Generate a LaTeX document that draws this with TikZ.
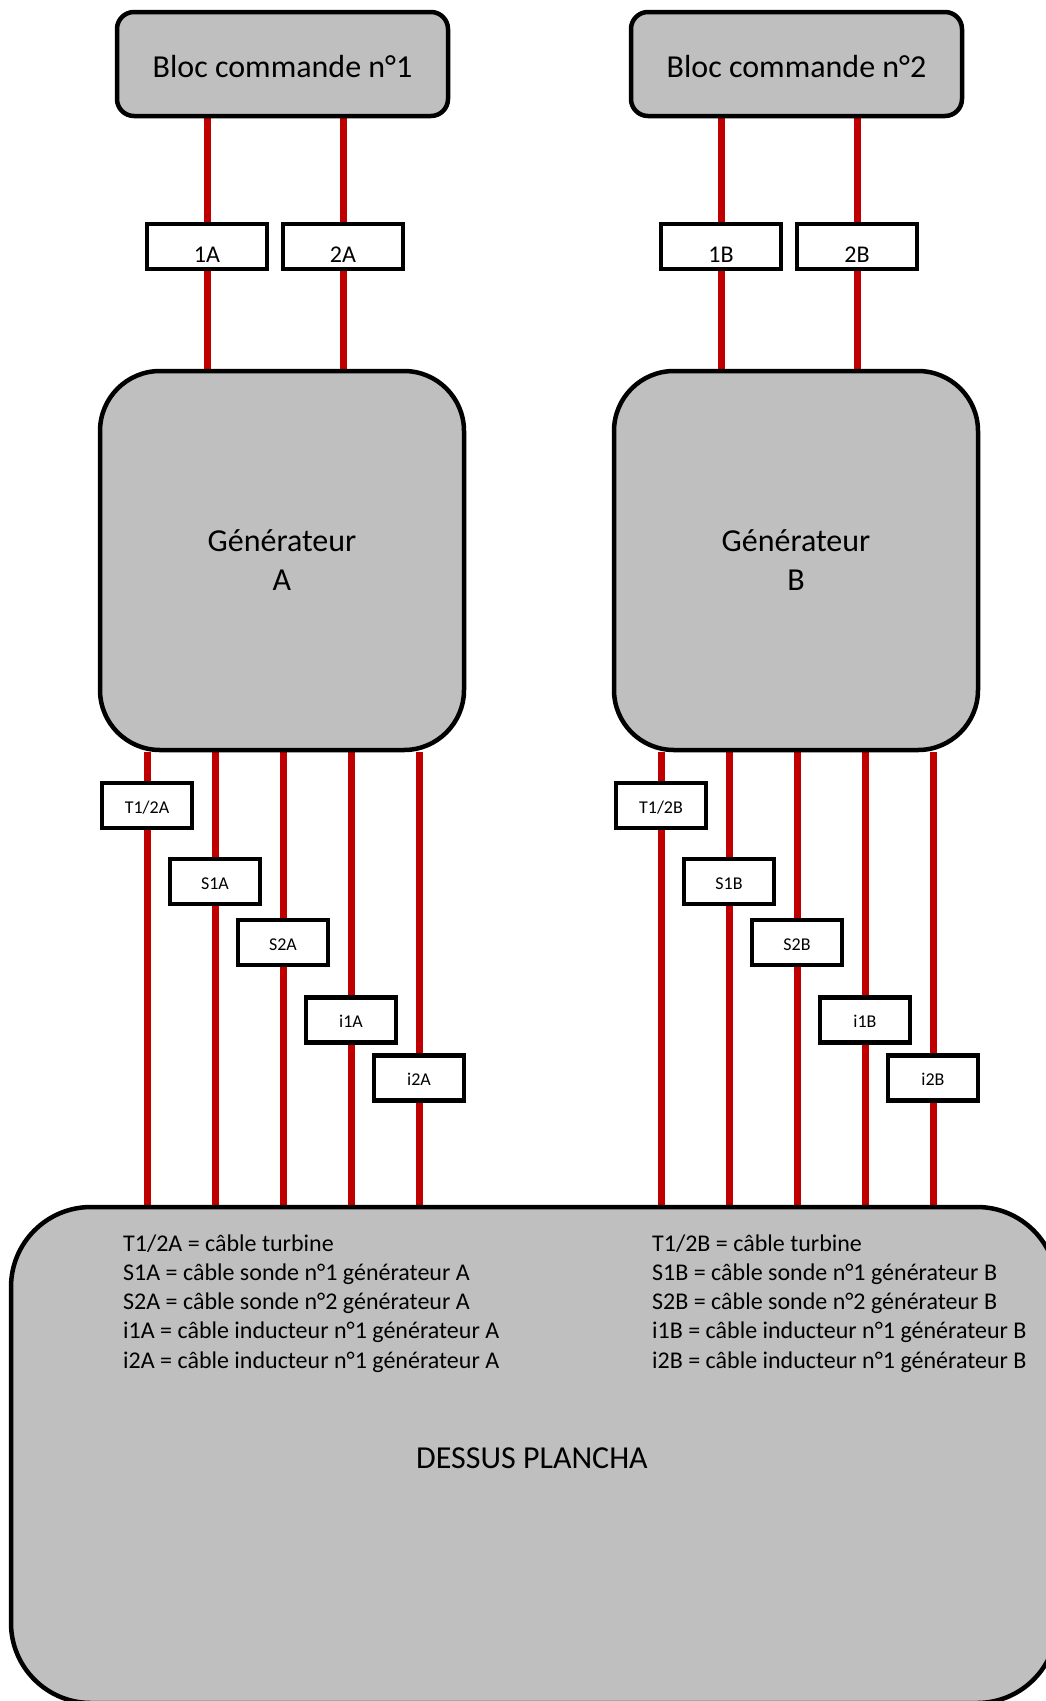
\documentclass[tikz,border=0pt]{standalone}
\usepackage{fontspec}
\setmainfont{Carlito}
\definecolor{wirered}{HTML}{C00000}
\definecolor{boxgray}{HTML}{BFBFBF}
\pgfdeclarelayer{bg}
\pgfsetlayers{bg,main}
\begin{document}
\begin{tikzpicture}[x=1pt,y=-1pt,
  bigbox/.style={draw=black, line width=4.5pt, fill=boxgray, inner sep=0pt, anchor=center},
  bloc/.style={bigbox, minimum width=331pt, minimum height=104pt, rounded corners=17pt,
    font=\fontsize{32}{38}\selectfont, text height=26pt, text depth=0pt},
  gen/.style={bigbox, minimum width=364pt, minimum height=379pt, rounded corners=60pt,
    font=\fontsize{32}{39}\selectfont, align=center},
  plate/.style={bigbox, minimum width=1046pt, minimum height=496pt, rounded corners=80pt},
  tagbox/.style={draw=black, line width=4.5pt, fill=white, inner sep=0pt, anchor=center,
    minimum width=120pt, minimum height=45pt, font=\fontsize{24}{29}\selectfont,
    text height=31pt, text depth=0pt},
  ctag/.style={draw=black, line width=4.5pt, fill=white, inner sep=0pt, anchor=center,
    minimum width=90pt, minimum height=45pt, font=\fontsize{18}{22}\selectfont,
    text height=15pt, text depth=0pt},
  wire/.style={draw=wirered, line width=7pt},
  legend/.style={anchor=base west, inner sep=0pt, font=\fontsize{24}{29}\selectfont},
  title/.style={anchor=base, inner sep=0pt, font=\fontsize{32}{38}\selectfont}]
\useasboundingbox (0,0) rectangle (1046,1701);

\node[plate] (plate) at (534,1455) {};
\node[title] (plateTitle) at (532,1468) {DESSUS PLANCHA};

\foreach \s/\o/\n in {A/0/1,B/514/2}{
  \node[bloc] (bloc\s) at (282.5+\o,64) {Bloc commande n°\n};
  \node[gen] (gen\s) at (282+\o,560.5) {Générateur\\\s};
  \node[tagbox] (tOne\s) at (207+\o,246.5) {1\s};
  \node[tagbox] (tTwo\s) at (343+\o,246.5) {2\s};
  \node[ctag] (tT\s) at (147+\o,805.5) {T1/2\s};
  \node[ctag] (tSa\s) at (215+\o,881.5) {S1\s};
  \node[ctag] (tSb\s) at (283+\o,942.5) {S2\s};
  \node[ctag] (tIa\s) at (351+\o,1020) {i1\s};
  \node[ctag] (tIb\s) at (419+\o,1078) {i2\s};
}

\foreach \s/\x in {A/123,B/652}{
  \node[legend] (leg1\s) at (\x,1251) {T1/2\s{} = câble turbine};
  \node[legend] (leg2\s) at (\x,1280.25) {S1\s{} = câble sonde n°1 générateur \s};
  \node[legend] (leg3\s) at (\x,1309.5) {S2\s{} = câble sonde n°2 générateur \s};
  \node[legend] (leg4\s) at (\x,1338.75) {i1\s{} = câble inducteur n°1 générateur \s};
  \node[legend] (leg5\s) at (\x,1368) {i2\s{} = câble inducteur n°1 générateur \s};
}

\begin{pgfonlayer}{bg}
\foreach \s in {A,B}{
  \draw[wire] (bloc\s.south -| tOne\s) -- (gen\s.north -| tOne\s);
  \draw[wire] (bloc\s.south -| tTwo\s) -- (gen\s.north -| tTwo\s);
  \foreach \t in {tT,tSa,tSb,tIa,tIb}{
    \draw[wire] (gen\s.south -| \t\s) -- (plate.north -| \t\s);
  }
}
\end{pgfonlayer}
\end{tikzpicture}
\end{document}
